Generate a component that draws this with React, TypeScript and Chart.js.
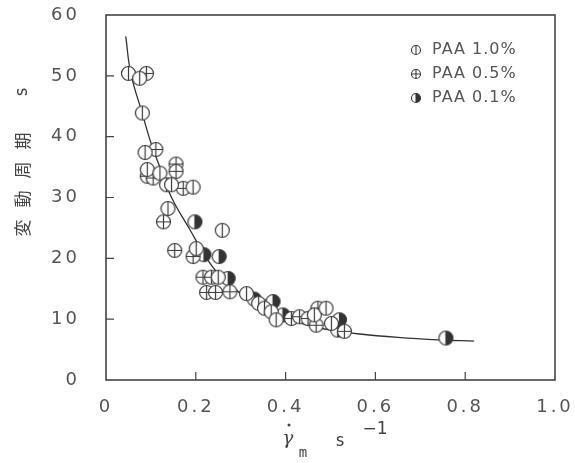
import React, { useEffect, useRef } from "react";
import { Chart, registerables } from "chart.js";

Chart.register(...registerables);

// PAA 1.0 % (circle with vertical bar)
const paa10X = [0.05, 0.075, 0.081, 0.087, 0.092, 0.12, 0.135, 0.146, 0.194, 0.138, 0.201, 0.259, 0.25, 0.313, 0.34, 0.353, 0.368, 0.379, 0.464, 0.49, 0.502];
const paa10Y = [50.4, 49.6, 43.9, 37.4, 34.6, 34.0, 32.1, 32.1, 31.7, 28.2, 21.6, 24.6, 16.9, 14.2, 12.6, 11.8, 11.2, 9.9, 10.7, 11.8, 9.3];
// PAA 0.5 % (circle with cross)
const paa05X = [0.09, 0.111, 0.092, 0.105, 0.156, 0.156, 0.172, 0.128, 0.153, 0.194, 0.216, 0.235, 0.224, 0.244, 0.276, 0.413, 0.431, 0.45, 0.472, 0.468, 0.531];
const paa05Y = [50.4, 37.9, 33.5, 33.2, 35.5, 34.3, 31.5, 26.0, 21.3, 20.3, 16.9, 16.9, 14.4, 14.4, 14.5, 10.1, 10.4, 10.1, 11.8, 9.0, 8.0];
// PAA 0.1 % (half filled circle)
const paa01X = [0.198, 0.218, 0.252, 0.272, 0.33, 0.36, 0.372, 0.394, 0.52, 0.516, 0.757];
const paa01Y = [26.0, 20.6, 20.3, 16.7, 13.3, 12.1, 12.9, 10.7, 9.9, 8.2, 6.9];
// fitted curve
const curveX = [0.044, 0.055, 0.08, 0.1, 0.12, 0.146, 0.187, 0.22, 0.25, 0.3, 0.35, 0.4, 0.45, 0.5, 0.56, 0.65, 0.74, 0.82];
const curveY = [56.5, 50.5, 44.0, 39.0, 35.0, 30.0, 24.7, 20.5, 17.5, 14.2, 12.0, 10.2, 9.0, 8.2, 7.6, 7.0, 6.6, 6.4];

const xTicks = [0, 0.2, 0.4, 0.6, 0.8, 1.0];
const yTicks = [0, 10, 20, 30, 40, 50, 60];
const legendLabels = ["PAA 1.0%", "PAA 0.5%", "PAA 0.1%"];
const yTitleChars = ["変", "動", "周", "期", "s"];

const INK = "#3a3a3a";
const TXT = "#555";

type Kind = "bar" | "cross" | "half";

function drawMarker(ctx: CanvasRenderingContext2D, kind: Kind, cx: number, cy: number, r: number, lw: number) {
  ctx.save();
  ctx.beginPath();
  ctx.arc(cx, cy, r, 0, Math.PI * 2);
  ctx.fillStyle = "#fff";
  ctx.fill();
  if (kind === "half") {
    ctx.beginPath();
    ctx.arc(cx, cy, r, -Math.PI / 2, Math.PI / 2);
    ctx.closePath();
    ctx.fillStyle = "#333";
    ctx.fill();
  }
  ctx.beginPath();
  ctx.arc(cx, cy, r, 0, Math.PI * 2);
  ctx.strokeStyle = INK;
  ctx.lineWidth = lw;
  ctx.stroke();
  ctx.beginPath();
  ctx.moveTo(cx, cy - r);
  ctx.lineTo(cx, cy + r);
  if (kind === "cross") {
    ctx.moveTo(cx - r, cy);
    ctx.lineTo(cx + r, cy);
  }
  ctx.stroke();
  ctx.restore();
}

function makeMarker(kind: Kind): HTMLCanvasElement {
  const c = document.createElement("canvas");
  c.width = 17;
  c.height = 17;
  const ctx = c.getContext("2d")!;
  drawMarker(ctx, kind, 8.5, 8.5, 7, 1.2);
  return c;
}

const toPts = (xs: number[], ys: number[]) => xs.map((x, i) => ({ x, y: ys[i] }));

export default function App() {
  const ref = useRef<HTMLCanvasElement>(null);
  useEffect(() => {
    const canvas = ref.current;
    if (!canvas) return;
    const kinds: Kind[] = ["bar", "cross", "half"];
    const decor = {
      id: "decor",
      beforeDraw(chart: any) {
        (chart.ctx as any).letterSpacing = "3px";
      },
      afterDraw(chart: any) {
        const ctx: CanvasRenderingContext2D = chart.ctx;
        (ctx as any).letterSpacing = "0px";
        const a = chart.chartArea;
        const xs = chart.scales.x;
        const ys = chart.scales.y;
        ctx.save();
        ctx.strokeStyle = "#444";
        ctx.lineWidth = 1.6;
        ctx.strokeRect(a.left, a.top, a.right - a.left, a.bottom - a.top);
        ctx.lineWidth = 1.2;
        ctx.beginPath();
        xTicks.slice(1, -1).forEach((t) => {
          const px = xs.getPixelForValue(t);
          ctx.moveTo(px, a.bottom);
          ctx.lineTo(px, a.bottom - 8);
        });
        yTicks.slice(1, -1).forEach((t) => {
          const py = ys.getPixelForValue(t);
          ctx.moveTo(a.left, py);
          ctx.lineTo(a.left + 8, py);
        });
        ctx.stroke();

        // legend
        ctx.font = "16px 'DejaVu Sans'";
        ctx.textBaseline = "middle";
        ctx.textAlign = "left";
        (ctx as any).letterSpacing = "1px";
        const rows = [50, 74, 98];
        legendLabels.forEach((lab, i) => {
          drawMarker(ctx, kinds[i], 416, rows[i], 4.5, 1.1);
          ctx.fillStyle = TXT;
          ctx.fillText(lab, 432, rows[i]);
        });
        (ctx as any).letterSpacing = "0px";

        // y title (rotated, characters spaced)
        const ty = [228, 199, 170, 141, 92];
        ctx.fillStyle = "#444";
        ctx.textAlign = "center";
        ctx.textBaseline = "middle";
        yTitleChars.forEach((ch, i) => {
          ctx.save();
          ctx.translate(23, ty[i]);
          ctx.rotate(-Math.PI / 2);
          ctx.font = ch === "s" ? "17px 'DejaVu Sans Mono'" : "17px 'Noto Sans CJK JP'";
          ctx.fillText(ch, 0, 0);
          ctx.restore();
        });

        // x title
        ctx.fillStyle = "#444";
        ctx.textAlign = "center";
        ctx.textBaseline = "alphabetic";
        ctx.font = "italic 18px 'DejaVu Serif'";
        ctx.fillText("γ", 288, 444);
        ctx.beginPath();
        ctx.arc(289, 425, 1.5, 0, Math.PI * 2);
        ctx.fill();
        ctx.font = "14px 'DejaVu Sans Mono'";
        ctx.fillText("m", 303, 457);
        ctx.font = "17px 'DejaVu Sans Mono'";
        ctx.fillText("s", 340, 446);
        ctx.font = "17px 'DejaVu Sans'";
        ctx.fillText("−1", 375, 434);
        ctx.restore();
      },
    };

    const chart = new Chart(canvas, {
      type: "scatter",
      data: {
        datasets: [
          {
            label: "curve",
            data: toPts(curveX, curveY),
            showLine: true,
            borderColor: "#333",
            borderWidth: 1.3,
            pointRadius: 0,
            tension: 0.4,
            order: 5,
          } as any,
          {
            label: legendLabels[0],
            data: toPts(paa10X, paa10Y),
            pointStyle: makeMarker("bar"),
            order: 1,
          },
          {
            label: legendLabels[1],
            data: toPts(paa05X, paa05Y),
            pointStyle: makeMarker("cross"),
            order: 2,
          },
          {
            label: legendLabels[2],
            data: toPts(paa01X, paa01Y),
            pointStyle: makeMarker("half"),
            order: 3,
          },
        ],
      },
      options: {
        animation: false,
        responsive: false,
        maintainAspectRatio: false,
        layout: { padding: { top: 15, right: 20, left: 0, bottom: 0 } },
        plugins: { legend: { display: false }, tooltip: { enabled: false } },
        scales: {
          x: {
            type: "linear",
            min: 0,
            max: 1,
            afterBuildTicks: (s: any) => {
              s.ticks = xTicks.map((v) => ({ value: v }));
            },
            afterFit: (s: any) => {
              s.height = 83;
              s.paddingLeft = 0;
              s.paddingRight = 0;
            },
            grid: { display: false },
            border: { display: false },
            ticks: {
              color: TXT,
              font: { family: "'DejaVu Sans'", size: 18 },
              padding: 9,
              maxRotation: 0,
              callback: (v: any) => (Number(v) === 0 ? "0" : Number(v).toFixed(1)),
            },
          },
          y: {
            type: "linear",
            min: 0,
            max: 60,
            afterBuildTicks: (s: any) => {
              s.ticks = yTicks.map((v) => ({ value: v }));
            },
            afterFit: (s: any) => {
              s.width = 106;
              s.paddingTop = 0;
              s.paddingBottom = 0;
            },
            grid: { display: false },
            border: { display: false },
            ticks: {
              color: TXT,
              font: { family: "'DejaVu Sans'", size: 18 },
              padding: 18,
              callback: (v: any) => String(v),
            },
          },
        },
      },
      plugins: [decor],
    } as any);
    return () => chart.destroy();
  }, []);

  return (
    <div style={{ position: "fixed", left: 0, top: 0, width: 575, height: 463, background: "#fff" }}>
      <canvas ref={ref} width={575} height={463} style={{ width: 575, height: 463 }} />
    </div>
  );
}
